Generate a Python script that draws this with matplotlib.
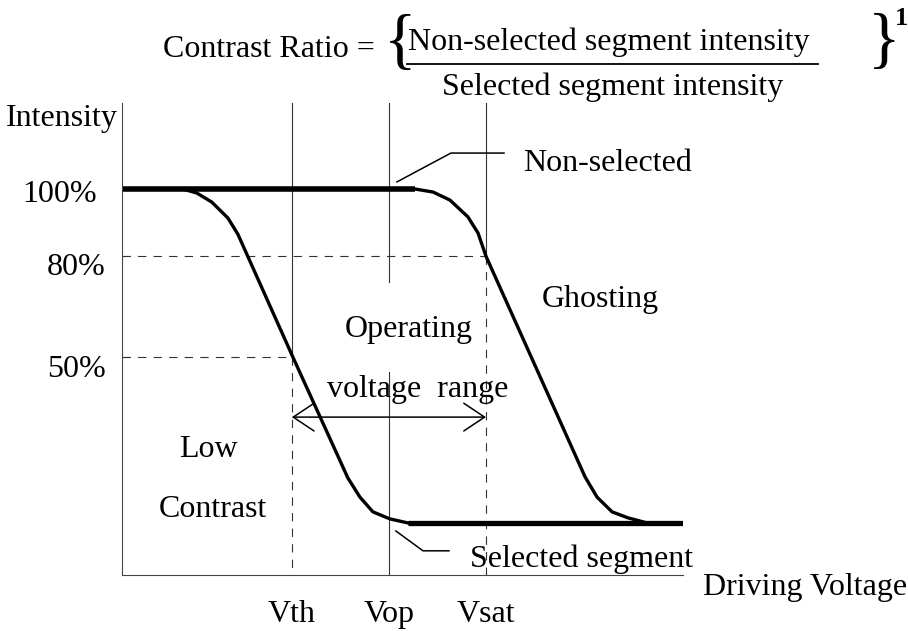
import matplotlib as mpl

mpl.use("Agg")

import matplotlib.pyplot as plt

plt.rcParams["font.family"] = ["Liberation Serif", "DejaVu Serif"]

# driving voltage (arbitrary units, Vth = 2, Vop = 3, Vsat = 4) and intensity (%)
voltage_marks = [2.0, 3.0, 4.0]
voltage_labels = ["Vth", "Vop", "Vsat"]
intensity_levels = [100, 80, 50]
intensity_labels = ["100%", "80%", "50%"]

# flat, saturated parts of both curves
nonselected_flat_v = [0.25, 3.27]
nonselected_flat_i = [100, 100]
selected_flat_v = [3.2, 6.03]
selected_flat_i = [0.5, 0.5]

# falling part of the selected segment curve
selected_v = [0.876, 1.021, 1.175, 1.340, 1.443, 2.010, 2.577, 2.701, 2.835, 3.010, 3.196]
selected_i = [100.0, 98.8, 96.1, 91.4, 86.6, 50.0, 14.0, 8.3, 3.9, 1.8, 0.6]

# falling part of the non-selected segment curve
nonselected_v = [3.268, 3.454, 3.629, 3.814, 3.918, 4.000, 5.021, 5.144, 5.299, 5.464, 5.660]
nonselected_i = [100.0, 99.1, 96.7, 91.7, 86.9, 80.0, 14.3, 8.3, 3.9, 2.1, 0.6]

FS = 23
thin = dict(color="#333333", linewidth=0.8)
dashed = dict(color="#333333", linewidth=0.8, linestyle=(0, (7.5, 6.5)))

fig = plt.figure(figsize=(9.08, 6.31), dpi=100)
ax = fig.add_axes([122 / 908, 1 - 575 / 631, 561 / 908, 472 / 631])
ax.set_xlim(0.25, 6.03)
ax.set_ylim(-14.9, 125.6)
for side in ["top", "right"]:
    ax.spines[side].set_visible(False)
for side in ["left", "bottom"]:
    ax.spines[side].set_color("#444444")
    ax.spines[side].set_linewidth(0.8)
ax.set_xticks([])
ax.set_yticks(intensity_levels[1:])
ax.set_yticklabels([])
ax.tick_params(axis="y", direction="in", length=6, width=0.8, color="#444444")

ylo, yhi = ax.get_ylim()

# guide lines at Vth, Vop, Vsat
ax.plot([2, 2], [yhi, 50], **thin)
ax.plot([2, 2], [50, ylo], **dashed)
ax.plot([3, 3], [yhi, 72.3], **thin)
ax.plot([3, 3], [45.5, ylo], **thin)
ax.plot([4, 4], [yhi, 80], **thin)
ax.plot([4, 4], [80, ylo], **dashed)
ax.plot([0.25, 4], [80, 80], **dashed)
ax.plot([0.25, 2], [50, 50], **dashed)

# curves
ax.plot(nonselected_flat_v, nonselected_flat_i, color="black", linewidth=4.0,
        solid_capstyle="butt")
ax.plot(selected_flat_v, selected_flat_i, color="black", linewidth=3.8,
        solid_capstyle="butt")
ax.plot(selected_v, selected_i, color="black", linewidth=2.4)
ax.plot(nonselected_v, nonselected_i, color="black", linewidth=2.4)

# leader lines
ax.plot([3.082, 3.639, 4.186], [102.1, 110.7, 110.7], color="black", linewidth=1.1)
ax.plot([3.072, 3.351, 3.619], [-1.8, -7.7, -7.7], color="black", linewidth=1.1,
        clip_on=False)

# operating voltage range arrow
ax.annotate("", xy=(4, 32.1), xytext=(2, 32.1),
        arrowprops=dict(arrowstyle="<->,head_length=1.5,head_width=1.0",
            color="black", linewidth=1.1, shrinkA=0, shrinkB=0))

# axis labels
text = dict(fontsize=FS, va="baseline")
ax.text(0.206, 118.75, "Intensity", ha="right", **text)
for level, label, xpos, ypos in zip(intensity_levels, intensity_labels,
        [-0.01, 0.082, 0.082], [96.1, 74.4, 44.0]):
    ax.text(xpos, ypos, label, ha="right", **text)
for mark, label in zip(voltage_marks, voltage_labels):
    ax.text(mark, -28.9, label, ha="center", **text)
ax.text(6.237, -20.8, "Driving Voltage", ha="left", **text)

# annotations
ax.text(4.381, 105.4, "Non-selected", ha="left", **text)
ax.text(4.577, 64.9, "Ghosting", ha="left", **text)
ax.text(2.546, 56.0, "Operating", ha="left", **text)
ax.text(2.361, 38.1, "voltage  range", ha="left", **text)
ax.text(1.144, 20.2, "Low", ha="center", **text)
ax.text(1.186, 2.4, "Contrast", ha="center", **text)
ax.text(3.835, -12.5, "Selected segment", ha="left", **text)

# contrast ratio formula on top
def fx(px):
    return px / 908

def fy(py):
    return 1 - py / 631

fig.text(fx(163), fy(57), "Contrast Ratio =", fontsize=FS, va="baseline")
fig.text(fx(384), fy(44.5), "{", fontsize=49, va="center", ha="left")
fig.text(fx(408), fy(50), "Non-selected segment intensity", fontsize=FS, va="baseline")
fig.add_artist(plt.Line2D([fx(407), fx(818)], [fy(64), fy(64)],
        color="black", linewidth=1.3))
fig.text(fx(613), fy(95), "Selected segment intensity", fontsize=FS,
        va="baseline", ha="center")
fig.text(fx(868), fy(43.5), "}", fontsize=49, va="center", ha="left")
fig.text(fx(895), fy(25), "1", fontsize=19, fontweight="bold", va="baseline")

plt.savefig("out.png", dpi=100)
